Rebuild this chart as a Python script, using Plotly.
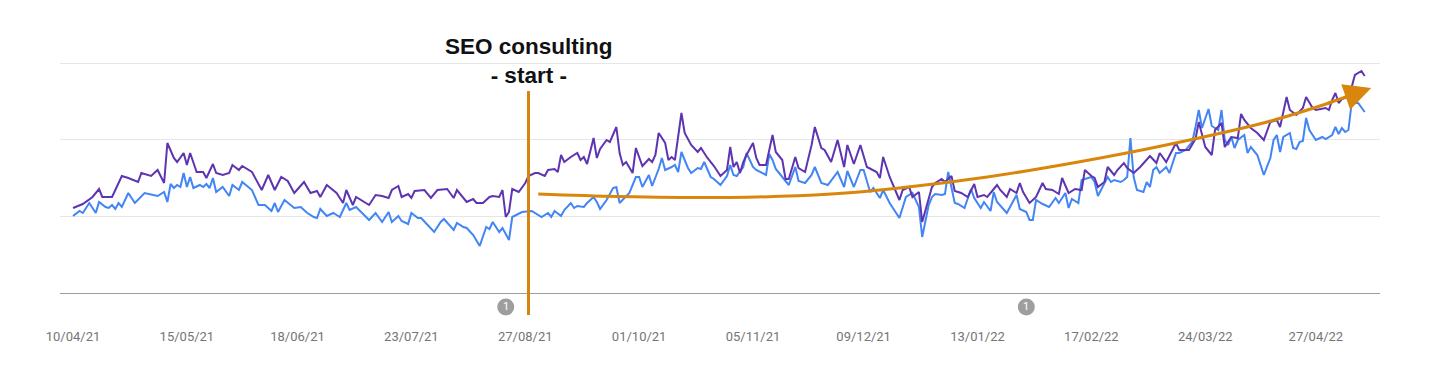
import pandas as pd
import plotly.graph_objects as go

# ---- data (day index counted from ORIGIN; values in arbitrary chart units) ----
ORIGIN = "2021-04-11"

purple_days = [-1, 1, 2, 5, 7, 8, 11, 12, 14, 16,
               19, 20, 23, 25, 27, 28, 30, 31, 33, 34,
               35, 37, 39, 40, 42, 43, 45, 47, 48, 50,
               51, 54, 55, 57, 59, 61, 63, 65, 67, 70,
               72, 74, 75, 77, 80, 82, 83, 85, 86, 90,
               92, 94, 96, 97, 99, 100, 102, 103, 104, 107,
               109, 111, 114, 116, 117, 120, 122, 123, 125, 127,
               128, 130, 131, 132, 133, 134, 136, 138, 139, 141,
               142, 144, 145, 147, 148, 149, 150, 152, 154, 155,
               156, 157, 159, 160, 161, 163, 164, 166, 167, 168,
               169, 171, 172, 174, 176, 177, 178, 179, 181, 182,
               183, 184, 186, 187, 189, 191, 192, 194, 196, 198,
               200, 201, 202, 203, 204, 205, 206, 208, 209, 210,
               212, 214, 215, 217, 218, 219, 221, 222, 224, 226,
               227, 229, 230, 232, 234, 236, 237, 239, 241, 243,
               246, 247, 248, 250, 253, 254, 256, 257, 259, 260,
               263, 264, 266, 267, 269, 270, 272, 274, 276, 277,
               279, 280, 283, 284, 286, 287, 289, 290, 291, 293,
               295, 297, 298, 300, 302, 303, 305, 307, 309, 310,
               312, 313, 314, 316, 317, 319, 320, 322, 323, 325,
               327, 328, 330, 332, 333, 335, 338, 339, 342, 344,
               345, 347, 349, 350, 352, 353, 355, 357, 358, 359,
               361, 363, 365, 367, 369, 370, 372, 373, 375, 377,
               378, 380, 381, 384, 385, 386, 387, 388, 389, 390,
               392, 393, 394, 395, 396]
purple_vals = [85, 88, 89, 96, 104, 96, 96, 103, 117, 115,
               111, 120, 117, 123, 110, 150, 135, 131, 140, 128,
               140, 121, 121, 115, 129, 120, 118, 120, 128, 123,
               127, 121, 115, 103, 118, 103, 116, 112, 100, 111,
               100, 102, 96, 108, 100, 90, 103, 88, 96, 88,
               98, 97, 95, 103, 107, 96, 99, 95, 102, 103,
               95, 103, 104, 95, 103, 91, 94, 90, 90, 96,
               97, 96, 103, 76, 81, 104, 101, 110, 117, 120,
               120, 117, 123, 124, 121, 138, 131, 136, 140, 133,
               136, 129, 155, 135, 144, 153, 151, 166, 140, 128,
               131, 120, 145, 127, 134, 131, 138, 160, 150, 133,
               136, 133, 180, 160, 148, 141, 145, 135, 127, 117,
               123, 146, 126, 131, 120, 131, 138, 150, 135, 128,
               128, 158, 141, 133, 114, 114, 136, 125, 121, 148,
               166, 145, 143, 131, 153, 126, 148, 129, 148, 126,
               121, 115, 136, 116, 93, 103, 106, 96, 101, 71,
               106, 110, 114, 111, 117, 102, 100, 96, 109, 96,
               98, 96, 108, 103, 96, 104, 100, 110, 101, 90,
               96, 110, 104, 103, 99, 115, 100, 104, 103, 123,
               117, 115, 106, 111, 126, 118, 123, 130, 125, 120,
               126, 130, 137, 130, 140, 131, 150, 143, 143, 154,
               171, 146, 138, 163, 170, 146, 156, 155, 179, 173,
               165, 160, 153, 171, 173, 166, 196, 183, 178, 185,
               196, 185, 183, 185, 183, 193, 200, 190, 194, 195,
               206, 218, 220, 222, 217]

blue_days = [-1, 1, 2, 4, 6, 7, 9, 10, 11, 12,
             13, 14, 16, 18, 21, 25, 27, 28, 29, 30,
             31, 32, 33, 34, 35, 36, 38, 39, 40, 41,
             42, 43, 45, 47, 48, 50, 51, 54, 56, 58,
             60, 61, 62, 64, 67, 69, 71, 73, 74, 75,
             77, 79, 80, 81, 83, 84, 86, 88, 90, 92,
             94, 96, 97, 99, 100, 102, 103, 105, 106, 108,
             110, 112, 113, 116, 117, 119, 120, 122, 124, 126,
             127, 128, 130, 131, 133, 134, 136, 137, 140, 142,
             143, 145, 146, 147, 149, 150, 152, 153, 154, 156,
             157, 159, 160, 161, 163, 165, 166, 167, 168, 170,
             172, 173, 174, 176, 177, 179, 180, 181, 183, 184,
             185, 186, 188, 189, 191, 192, 193, 195, 196, 198,
             200, 201, 202, 203, 205, 206, 208, 209, 212, 213,
             214, 215, 218, 219, 221, 222, 224, 226, 227, 229,
             231, 234, 236, 237, 239, 241, 242, 244, 245, 247,
             248, 250, 253, 255, 257, 259, 260, 262, 263, 264,
             266, 267, 268, 270, 271, 273, 275, 276, 278, 279,
             281, 282, 283, 286, 287, 289, 290, 292, 293, 294,
             295, 297, 299, 301, 302, 304, 305, 306, 308, 309,
             312, 313, 314, 316, 317, 318, 319, 321, 322, 323,
             324, 325, 326, 328, 329, 330, 331, 332, 333, 335,
             336, 338, 339, 341, 343, 344, 345, 346, 348, 349,
             351, 352, 353, 354, 355, 356, 357, 359, 360, 361,
             363, 364, 365, 367, 368, 369, 370, 371, 373, 374,
             375, 376, 377, 378, 379, 381, 383, 384, 386, 387,
             388, 389, 390, 391, 392, 394, 395, 396]
blue_vals = [77, 82, 80, 90, 80, 91, 86, 85, 88, 84,
             90, 86, 100, 90, 100, 97, 101, 91, 109, 105,
             108, 106, 120, 106, 116, 105, 108, 106, 109, 105,
             115, 101, 106, 97, 108, 103, 111, 103, 88, 88,
             82, 90, 81, 93, 85, 86, 80, 76, 75, 84,
             77, 80, 78, 76, 90, 83, 86, 80, 73, 80,
             71, 81, 71, 77, 72, 69, 80, 75, 75, 68,
             61, 71, 74, 63, 70, 66, 65, 58, 47, 66,
             64, 71, 61, 65, 53, 76, 79, 81, 82, 78,
             76, 80, 76, 82, 77, 83, 90, 85, 87, 86,
             90, 96, 91, 84, 93, 105, 106, 90, 93, 100,
             116, 116, 106, 118, 107, 124, 135, 123, 126, 128,
             121, 141, 125, 120, 125, 124, 131, 116, 114, 108,
             117, 128, 118, 117, 126, 140, 126, 123, 118, 139,
             133, 124, 112, 108, 126, 112, 110, 118, 126, 110,
             108, 121, 106, 122, 106, 123, 123, 101, 105, 95,
             103, 90, 75, 96, 100, 86, 56, 88, 96, 99,
             98, 99, 121, 90, 89, 85, 104, 95, 85, 91,
             82, 101, 91, 80, 86, 98, 84, 81, 73, 73,
             93, 89, 86, 95, 90, 100, 85, 94, 90, 113,
             116, 111, 97, 110, 116, 111, 113, 111, 113, 116,
             155, 116, 103, 101, 111, 106, 123, 126, 120, 126,
             120, 140, 140, 143, 151, 166, 183, 165, 184, 167,
             163, 183, 153, 148, 156, 145, 153, 158, 140, 146,
             138, 128, 118, 135, 153, 158, 141, 156, 160, 145,
             144, 151, 152, 175, 163, 153, 156, 154, 158, 166,
             159, 165, 161, 163, 190, 190, 186, 181]

# hand-drawn trend curve (annotation) and its arrow tip
trend_days = [142, 167, 201, 232, 253, 280, 308, 335, 366, 386]
trend_vals = [99, 96.5, 95.5, 99, 105, 116, 131, 148, 171, 191]
arrow_tail = (384, 189)
arrow_tip = (398, 205)

tick_dates = ["2021-04-10", "2021-05-15", "2021-06-18", "2021-07-23", "2021-08-27",
              "2021-10-01", "2021-11-05", "2021-12-09", "2022-01-13", "2022-02-17",
              "2022-03-24", "2022-04-27"]
tick_labels = ["10/04/21", "15/05/21", "18/06/21", "23/07/21", "27/08/21",
               "01/10/21", "05/11/21", "09/12/21", "13/01/22", "17/02/22",
               "24/03/22", "27/04/22"]

event_days = [132, 292]
event_labels = ["1", "1"]
seo_start = "2021-08-28"

assert len(purple_days) == len(purple_vals)
assert len(blue_days) == len(blue_vals)


def to_dates(days):
    return pd.Timestamp(ORIGIN) + pd.to_timedelta(days, unit="D")


fig = go.Figure()
fig.add_trace(go.Scatter(x=to_dates(blue_days), y=blue_vals, mode="lines",
                         line=dict(color="#4285f4", width=2), showlegend=False))
fig.add_trace(go.Scatter(x=to_dates(purple_days), y=purple_vals, mode="lines",
                         line=dict(color="#5e35b1", width=2), showlegend=False))
fig.add_trace(go.Scatter(x=to_dates(trend_days), y=trend_vals, mode="lines",
                         line=dict(color="#d9870c", width=3, shape="spline", smoothing=1.0),
                         showlegend=False))

fig.add_annotation(x=to_dates([arrow_tip[0]])[0], y=arrow_tip[1],
                   ax=to_dates([arrow_tail[0]])[0], ay=arrow_tail[1],
                   xref="x", yref="y", axref="x", ayref="y",
                   showarrow=True, arrowhead=2, arrowsize=1.8, arrowwidth=3,
                   arrowcolor="#d9870c", text="")

# event markers below the axis (grey circles with a count)
for d, lab in zip(event_days, event_labels):
    xd = to_dates([d])[0]
    fig.add_shape(type="circle", xref="x", yref="paper",
                  xsizemode="pixel", ysizemode="pixel",
                  xanchor=xd, yanchor=-0.0598,
                  x0=-8.5, x1=8.5, y0=-8.5, y1=8.5,
                  fillcolor="#9e9e9e", line=dict(width=0))
    fig.add_annotation(x=xd, xref="x", y=-0.0598, yref="paper", text=lab,
                       showarrow=False, yanchor="middle", xanchor="center",
                       font=dict(family="Roboto", size=11, color="white"))

fig.add_shape(type="line", xref="x", yref="paper", x0=seo_start, x1=seo_start,
              y0=-0.094, y1=0.863, line=dict(color="#d4850f", width=3))

fig.add_annotation(x=seo_start, xref="x", y=0.991, yref="paper", yanchor="middle",
                   text="<b>SEO consulting</b><br><b>- start -</b>", showarrow=False,
                   font=dict(family="Liberation Sans, Arial, sans-serif", size=22.5, color="#111111"),
                   align="center")

fig.update_layout(
    width=1455, height=370,
    margin=dict(l=60, r=75, t=59, b=77),
    paper_bgcolor="white", plot_bgcolor="white",
    xaxis=dict(type="date", range=["2021-04-06", "2022-05-16 17:00"],
               tickvals=tick_dates, ticktext=tick_labels,
               showgrid=False, zeroline=False,
               showline=True, linecolor="#9e9e9e", linewidth=1,
               ticks="outside", ticklen=31, tickcolor="rgba(0,0,0,0)",
               tickfont=dict(family="Roboto", size=13, color="#757575")),
    yaxis=dict(range=[0, 234], tickvals=[77, 154, 230], showticklabels=False,
               gridcolor="#e6e6e6", gridwidth=1, zeroline=False, showline=False),
)

fig.write_html("out.html", post_script="document.body.style.margin='0';",
               config={"displayModeBar": False})
